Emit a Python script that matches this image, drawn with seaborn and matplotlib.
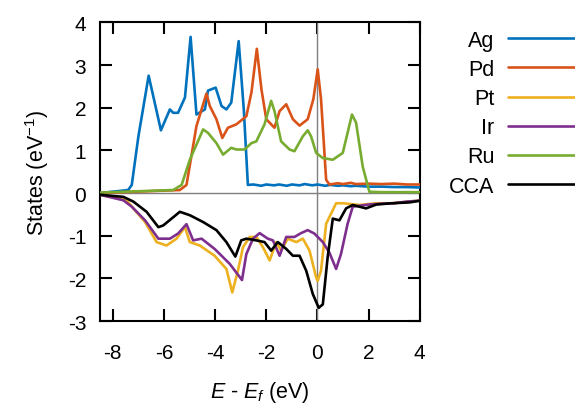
import numpy as np
import pandas as pd
import matplotlib
matplotlib.use("Agg")
import matplotlib.pyplot as plt
import seaborn as sns

# ---------------- data ----------------
ag_e = [-8.5, -7.4, -7.26, -7.0, -6.6, -6.12, -5.77, -5.64, -5.45, -5.18, -4.96, -4.73,
        -4.4, -4.28, -3.98, -3.75, -3.56, -3.37, -3.08, -2.88, -2.72, -2.5, -2.2, -2.0,
        -1.7, -1.5, -1.2, -1.0, -0.7, -0.5, -0.2, 0.0, 0.3, 0.5, 0.8, 1.0, 1.3, 1.5, 2.0,
        2.5, 3.0, 3.5, 4.0]
ag_s = [0.0, 0.07, 0.19, 1.33, 2.75, 1.47, 1.96, 1.88, 1.88, 2.24, 3.66, 1.84,
        1.96, 2.4, 2.47, 2.04, 1.96, 2.12, 3.56, 1.96, 0.19, 0.2, 0.17, 0.2,
        0.18, 0.2, 0.17, 0.2, 0.18, 0.21, 0.18, 0.2, 0.17, 0.19, 0.17, 0.18, 0.16, 0.17, 0.15,
        0.15, 0.14, 0.14, 0.13]

pd_e = [-8.5, -5.38, -5.12, -4.73, -4.34, -4.21, -3.95, -3.72, -3.5, -3.17, -2.78, -2.58,
        -2.37, -2.19, -2.0, -1.68, -1.48, -1.22, -0.96, -0.7, -0.38, -0.16, 0.01, 0.14,
        0.34, 0.47, 0.8, 1.0, 1.3, 1.5, 2.0, 2.5, 3.0, 3.5, 4.0]
pd_s = [0.0, 0.07, 0.19, 1.57, 2.33, 2.04, 1.73, 1.29, 1.53, 1.61, 1.8, 2.36,
        3.38, 2.43, 1.73, 1.53, 1.92, 2.08, 1.73, 1.58, 1.73, 2.2, 2.9, 2.2,
        0.31, 0.2, 0.23, 0.21, 0.24, 0.21, 0.22, 0.21, 0.22, 0.2, 0.2]

pt_e = [-8.5, -7.46, -7.2, -6.74, -6.29, -5.9, -5.51, -5.18, -4.99, -4.6, -4.02, -3.56,
        -3.33, -3.11, -2.91, -2.65, -2.39, -2.13, -1.87, -1.61, -1.42, -1.16, -0.83, -0.57,
        -0.31, -0.05, 0.01, 0.14, 0.34, 0.47, 0.73, 1.0, 1.64, 2.29, 2.94, 3.59, 4.0]
pt_s = [-0.04, -0.17, -0.36, -0.68, -1.15, -1.23, -1.07, -0.8, -1.15, -1.23, -1.47, -1.78,
        -2.33, -1.82, -1.27, -1.03, -1.03, -1.27, -1.58, -1.15, -1.35, -1.07, -1.15, -1.07,
        -1.35, -1.98, -2.06, -1.82, -0.72, -0.56, -0.24, -0.24, -0.28, -0.24, -0.24, -0.2, -0.18]

ir_e = [-8.5, -7.59, -7.26, -6.74, -6.22, -5.77, -5.45, -5.12, -4.86, -4.53, -4.02, -3.43,
        -2.95, -2.78, -2.52, -2.26, -1.94, -1.74, -1.48, -1.22, -0.9, -0.64, -0.38, -0.12,
        0.21, 0.47, 0.73, 0.92, 1.18, 1.38, 2.0, 2.5, 3.0, 3.5, 4.0]
ir_s = [-0.04, -0.17, -0.32, -0.64, -1.07, -1.07, -0.95, -0.73, -1.11, -1.07, -1.31, -1.66,
        -2.04, -1.43, -1.07, -0.94, -1.07, -1.11, -1.47, -1.03, -1.03, -0.94, -0.87, -0.95,
        -1.15, -1.4, -1.78, -1.43, -0.72, -0.32, -0.27, -0.25, -0.24, -0.2, -0.18]

ru_e = [-8.5, -5.64, -5.31, -4.99, -4.47, -4.28, -3.95, -3.69, -3.37, -3.17, -2.85, -2.58,
        -2.39, -2.07, -1.81, -1.68, -1.42, -1.09, -0.9, -0.57, -0.38, -0.25, -0.05, 0.21,
        0.6, 0.99, 1.35, 1.51, 1.77, 2.03, 2.5, 3.0, 3.5, 4.0]
ru_s = [0.01, 0.07, 0.19, 0.78, 1.49, 1.41, 1.17, 0.9, 1.06, 1.02, 1.02, 1.17,
        1.21, 1.61, 2.16, 1.92, 1.21, 1.02, 0.98, 1.33, 1.47, 1.33, 0.94, 0.82,
        0.78, 0.94, 1.84, 1.65, 0.62, 0.03, 0.02, 0.02, 0.02, 0.02]

cca_e = [-8.5, -7.59, -7.2, -6.68, -6.22, -6.03, -5.38, -4.99, -4.47, -3.95, -3.56, -3.21,
         -2.98, -2.78, -2.39, -2.07, -1.81, -1.55, -1.22, -0.96, -0.7, -0.44, -0.18, 0.05,
         0.21, 0.4, 0.6, 0.86, 1.12, 1.38, 1.9, 2.3, 2.9, 3.6, 4.0]
cca_s = [-0.04, -0.09, -0.2, -0.44, -0.8, -0.76, -0.44, -0.52, -0.68, -0.87, -1.15, -1.49,
         -1.11, -1.07, -1.11, -1.15, -1.35, -1.15, -1.31, -1.47, -1.47, -1.82, -2.37, -2.69,
         -2.61, -1.5, -0.6, -0.64, -0.36, -0.28, -0.36, -0.27, -0.24, -0.22, -0.18]

series_names = ["Ag", "Pd", "Pt", "Ir", "Ru", "CCA"]
series_e = [ag_e, pd_e, pt_e, ir_e, ru_e, cca_e]
series_s = [ag_s, pd_s, pt_s, ir_s, ru_s, cca_s]
colors = ["#0072BD", "#D95319", "#EDB120", "#7E2F8E", "#77AC30", "#000000"]

x_ticks = [-8, -6, -4, -2, 0, 2, 4]
y_ticks = [-3, -2, -1, 0, 1, 2, 3, 4]

# ---------------- build long table ----------------
frames = []
for name, e, s in zip(series_names, series_e, series_s):
    frames.append(pd.DataFrame({"E": e, "S": s, "el": name}))
df = pd.concat(frames, ignore_index=True)

sns.set_style("ticks")
plt.rcParams["font.family"] = ["Liberation Sans", "DejaVu Sans"]
plt.rcParams["mathtext.fontset"] = "custom"
plt.rcParams["mathtext.rm"] = "Liberation Sans"
plt.rcParams["mathtext.it"] = "Liberation Sans:italic"
plt.rcParams["axes.unicode_minus"] = False
plt.rcParams["text.color"] = "black"
plt.rcParams["axes.labelcolor"] = "black"

fig = plt.figure(figsize=(5.75, 4.1), dpi=100)
ax = fig.add_axes([0.174, 0.2146, 0.556, 0.7284])

ax.axhline(0, color="#7f7f7f", lw=1.0, zorder=1)
ax.axvline(0, color="#7f7f7f", lw=1.0, zorder=1)

sns.lineplot(data=df, x="E", y="S", hue="el", hue_order=series_names,
             palette=colors, linewidth=1.9, sort=False, estimator=None,
             ax=ax, legend=True, zorder=3)

ax.set_xlim(-8.5, 4)
ax.set_ylim(-3, 4)
ax.set_xticks(x_ticks)
ax.set_yticks(y_ticks)
ax.set_xticklabels([str(t) for t in x_ticks])
ax.set_yticklabels([str(t) for t in y_ticks])

for sp in ax.spines.values():
    sp.set_visible(True)
    sp.set_linewidth(1.5)
    sp.set_color("black")

ax.tick_params(axis="both", direction="in", length=8.5, width=1.5,
               top=True, right=True, labelsize=15, colors="black",
               labelcolor="black")
ax.tick_params(axis="x", pad=16)
ax.tick_params(axis="y", pad=10)

ax.set_xlabel(r"$E$ - $E_f$ (eV)", fontsize=15.5, labelpad=12, color="black")
ax.set_ylabel(r"States (eV$^{-1}$)", fontsize=15.5, labelpad=12, color="black")

handles, labels = ax.get_legend_handles_labels()
ax.get_legend().remove()
leg = fig.legend(handles, labels, loc="upper right", bbox_to_anchor=(1.0, 0.925),
                 frameon=False, markerfirst=False, fontsize=15.5,
                 handlelength=3.1, handletextpad=0.65, labelspacing=0.38,
                 borderpad=0, borderaxespad=0, labelcolor="black")
for h in leg.get_lines():
    h.set_linewidth(1.9)

fig.savefig("out.png", dpi=100)
